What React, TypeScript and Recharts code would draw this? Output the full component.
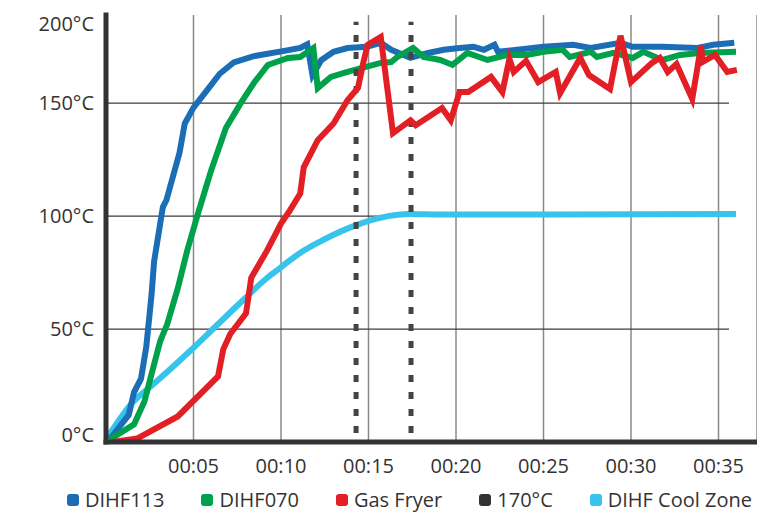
import { CartesianGrid, Line, LineChart, ReferenceLine, XAxis, YAxis } from "recharts";

// time in minutes, temperature in °C
const coolTimes = [0.1, 1.54, 2.51, 3.49, 4.8, 6.11, 7.66, 9.2, 9.94, 11.09, 12.4, 14.34, 15.66, 17.37, 19.09, 36.0];
const coolTemps = [2.2, 17.7, 24.3, 31, 40.3, 50, 61.5, 72.6, 77, 83.7, 89.4, 96.1, 99.2, 100.9, 100.7, 100.9];

const blueTimes = [
  0.2, 1.3, 1.6, 2.0, 2.3, 2.6, 2.75, 3.25, 3.45, 4.2, 4.5, 5.0, 5.8, 6.5, 7.3, 8.4, 10.1, 11.1, 11.5, 11.8, 12.3,
  13.0, 13.8, 14.9, 15.7, 16.3, 17.4, 18.4, 19.3, 20.2, 21.0, 21.6, 22.2, 22.4, 23.5, 25.0, 26.7, 27.7, 29.4, 30.1,
  31.8, 33.8, 34.7, 35.9,
];
const blueTemps = [
  1, 12, 22, 28, 42, 65, 80, 104, 107, 128, 141, 148, 156, 163, 168, 170.7, 173, 174.4, 176, 162.4, 169, 172.7,
  174.4, 174.9, 176.7, 173.6, 170, 172.2, 173.6, 174.4, 174.9, 173.6, 175.8, 172.7, 173.6, 174.9, 175.8, 174.4,
  176.7, 174.9, 174.9, 174.4, 175.8, 176.7,
];

const greenTimes = [
  0.2, 1.6, 2.2, 2.6, 3.1, 3.5, 4.1, 4.65, 5.25, 6.0, 6.85, 7.7, 8.45, 9.25, 10.4, 11.1, 11.85, 12.1, 12.85, 13.8,
  15.7, 16.3, 16.65, 17.55, 18.15, 19.1, 19.8, 20.65, 21.8, 22.9, 24.05, 25.0, 26.1, 26.5, 27.7, 28.05, 29.0, 30.1,
  30.7, 31.8, 32.8, 33.9, 36.0,
];
const greenTemps = [
  1, 7.8, 18, 30, 44.7, 52.2, 68, 85, 101, 120, 139, 150, 158.9, 166.9, 170, 170.4, 174.4, 156.7, 161.6, 163.8,
  167.8, 168.2, 170.4, 174.4, 170.4, 169.1, 166.9, 172.2, 169.1, 171.3, 171.3, 172.7, 173.6, 170.4, 172.7, 170.4,
  172.2, 170, 172.7, 169.1, 171.3, 172.2, 172.7,
];

const redTimes = [
  0.4, 1.8, 4.1, 6.4, 6.7, 7.1, 8.0, 8.15, 8.3, 9.2, 10.0, 10.5, 11.1, 11.3, 12.1, 13.0, 13.8, 14.4, 14.7, 14.95,
  15.7, 16.4, 17.4, 17.7, 19.2, 19.7, 20.2, 20.7, 22.0, 22.65, 23.05, 23.3, 24.0, 24.7, 25.7, 25.95, 27.1, 27.6,
  28.8, 29.4, 30.0, 31.2, 31.65, 32.1, 32.6, 33.5, 34.0, 34.1, 34.8, 35.5, 36.05,
];
const redTemps = [
  0, 1.6, 11.3, 29, 41, 47.8, 57, 64.7, 72.7, 84.7, 96.7, 102.4, 110, 121.6, 133.6, 141, 151.3, 156.7, 167.8, 175.8,
  179.3, 136.7, 142.4, 140.2, 147.8, 142.4, 154.9, 154.9, 161.6, 154.9, 169.6, 163.8, 168.7, 159.3, 163.8, 154.4,
  170, 162.4, 156.2, 179.8, 159.3, 167.8, 170, 163.8, 167.3, 151.8, 175.3, 168.2, 171.3, 163.8, 164.7,
];

// minutes at which the 170°C mark is reached, drawn as dashed verticals
const markerTimes = [14.29, 17.43];
const markerSpan = [4, 186];

const xTicks = [5, 10, 15, 20, 25, 30, 35];
const yTicks = [3, 50, 100, 150, 185];
const yTickLabels = ["0°C", "50°C", "100°C", "150°C", "200°C"];
const gridTemps = [50, 100, 150];

const series = [
  { name: "DIHF113", color: "#1b6db6" },
  { name: "DIHF070", color: "#00a14b" },
  { name: "Gas Fryer", color: "#e31f26" },
  { name: "170°C", color: "#333333" },
  { name: "DIHF Cool Zone", color: "#36c3ec" },
];

const toPoints = (times: number[], temps: number[]) => times.map((t, i) => ({ t, v: temps[i] }));

const FONT = "'Open Sans', sans-serif";

const LegendRow = () => (
  <div
    style={{
      position: "absolute",
      left: 67,
      top: 490,
      display: "flex",
      alignItems: "center",
      gap: 37,
      fontFamily: FONT,
      fontSize: 20,
      lineHeight: "20px",
      color: "#333",
      whiteSpace: "nowrap",
    }}
  >
    {series.map((s) => (
      <div key={s.name} style={{ display: "flex", alignItems: "center", gap: 6 }}>
        <span style={{ width: 12, height: 12, borderRadius: 3, background: s.color, display: "inline-block" }} />
        <span>{s.name}</span>
      </div>
    ))}
  </div>
);

export default function App() {
  const tickStyle = { fill: "#333", fontSize: 20, fontFamily: FONT };
  const axisLine = { stroke: "#333", strokeWidth: 5, strokeLinecap: "square" as const };
  return (
    <div style={{ position: "absolute", left: 0, top: 0, width: 757, height: 512, background: "#fff" }}>
      <LineChart width={757} height={512} margin={{ top: 15, right: 0, left: 0, bottom: 0 }}>
        <CartesianGrid horizontal={false} stroke="#8d8888" strokeWidth={1.5} />
        <XAxis
          type="number"
          dataKey="t"
          domain={[0, 37.2]}
          allowDataOverflow
          ticks={xTicks}
          tickFormatter={(m: number) => `00:${String(m).padStart(2, "0")}`}
          height={70}
          axisLine={axisLine}
          tickLine={false}
          tickSize={0}
          tickMargin={17}
          tick={tickStyle}
        />
        <YAxis
          type="number"
          domain={[0, 189]}
          allowDataOverflow
          ticks={yTicks}
          tickFormatter={(v: number) => yTickLabels[yTicks.indexOf(v)]}
          width={106}
          axisLine={axisLine}
          tickLine={false}
          tickSize={0}
          tickMargin={12}
          tick={tickStyle}
        />
        {gridTemps.map((g) => (
          <ReferenceLine
            key={g}
            segment={[
              { x: 0, y: g },
              { x: 35.6, y: g },
            ]}
            stroke="#3f3a3a"
            strokeWidth={1.2}
          />
        ))}
        <Line
          data={toPoints(coolTimes, coolTemps)}
          dataKey="v"
          type="monotone"
          stroke="#36c3ec"
          strokeWidth={6}
          dot={false}
          isAnimationActive={false}
        />
        <Line
          data={toPoints(blueTimes, blueTemps)}
          dataKey="v"
          type="linear"
          stroke="#1b6db6"
          strokeWidth={6}
          dot={false}
          isAnimationActive={false}
        />
        <Line
          data={toPoints(greenTimes, greenTemps)}
          dataKey="v"
          type="linear"
          stroke="#00a14b"
          strokeWidth={6}
          dot={false}
          isAnimationActive={false}
        />
        {markerTimes.map((m) => (
          <Line
            key={m}
            data={markerSpan.map((v) => ({ t: m, v }))}
            dataKey="v"
            type="linear"
            stroke="#444"
            strokeWidth={5}
            strokeDasharray="7 10"
            dot={false}
            isAnimationActive={false}
          />
        ))}
        <Line
          data={toPoints(redTimes, redTemps)}
          dataKey="v"
          type="linear"
          stroke="#e31f26"
          strokeWidth={6}
          dot={false}
          isAnimationActive={false}
        />
      </LineChart>
      <LegendRow />
    </div>
  );
}
